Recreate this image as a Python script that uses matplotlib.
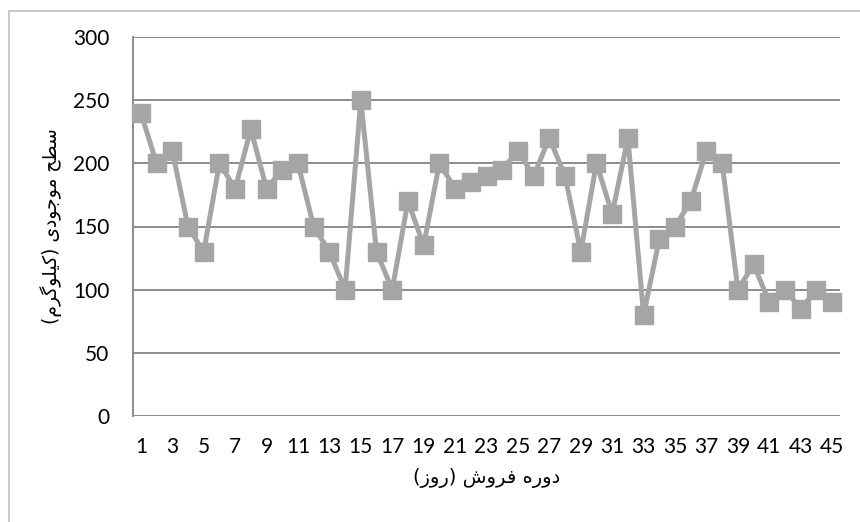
import matplotlib
matplotlib.use("Agg")
import matplotlib.pyplot as plt
from matplotlib.patches import Rectangle

# داده‌ها: سطح موجودی در هر روز دوره فروش
days = list(range(1, 46))
stock = [240, 200, 210, 150, 130, 200, 180, 227, 180, 195,
         200, 150, 130, 100, 250, 130, 100, 170, 135, 200,
         180, 185, 190, 195, 210, 190, 220, 190, 130, 200,
         160, 220, 80, 140, 150, 170, 210, 200, 100, 120,
         90, 100, 85, 100, 90]
x_ticks = list(range(1, 46, 2))
y_ticks = [0, 50, 100, 150, 200, 250, 300]

x_title = "دوره فروش (روز)"
y_title = "سطح موجودی (کیلوگرم)"

# matplotlib شکل‌دهی عربی ندارد، پس حروف را دستی به شکل‌های نمایشی می‌بریم
# (جدا، پایانی، آغازی، میانی)
FORMS = {
    'د': ('\uFEA9', '\uFEAA', None, None),
    'ر': ('\uFEAD', '\uFEAE', None, None),
    'ز': ('\uFEAF', '\uFEB0', None, None),
    'و': ('\uFEED', '\uFEEE', None, None),
    'ه': ('\uFEE9', '\uFEEA', '\uFEEB', '\uFEEC'),
    'ف': ('\uFED1', '\uFED2', '\uFED3', '\uFED4'),
    'ش': ('\uFEB5', '\uFEB6', '\uFEB7', '\uFEB8'),
    'س': ('\uFEB1', '\uFEB2', '\uFEB3', '\uFEB4'),
    'ط': ('\uFEC1', '\uFEC2', '\uFEC3', '\uFEC4'),
    'ح': ('\uFEA1', '\uFEA2', '\uFEA3', '\uFEA4'),
    'م': ('\uFEE1', '\uFEE2', '\uFEE3', '\uFEE4'),
    'ج': ('\uFE9D', '\uFE9E', '\uFE9F', '\uFEA0'),
    'ل': ('\uFEDD', '\uFEDE', '\uFEDF', '\uFEE0'),
    'ی': ('\uFBFC', '\uFBFD', '\uFBFE', '\uFBFF'),
    'ک': ('\uFB8E', '\uFB8F', '\uFB90', '\uFB91'),
    'گ': ('\uFB92', '\uFB93', '\uFB94', '\uFB95'),
}


def shape_rtl(text):
    out = []
    for i, ch in enumerate(text):
        if ch not in FORMS:
            out.append(ch)
            continue
        prev = text[i - 1] if i > 0 else ''
        nxt = text[i + 1] if i + 1 < len(text) else ''
        join_prev = prev in FORMS and FORMS[prev][2] is not None
        join_next = FORMS[ch][2] is not None and nxt in FORMS
        iso, fin, ini, med = FORMS[ch]
        if join_prev and join_next:
            out.append(med)
        elif join_prev:
            out.append(fin)
        elif join_next:
            out.append(ini)
        else:
            out.append(iso)
    swap = {'(': ')', ')': '('}
    return ''.join(swap.get(c, c) for c in reversed(out))


line_col = '#A5A5A5'
grid_col = '#8C8C8C'

fig = plt.figure(figsize=(8.6, 5.22), dpi=100)
fig.add_artist(Rectangle((8.5 / 860, -0.1), 1.2, 1.1 - 10.5 / 522,
                         transform=fig.transFigure, fill=False,
                         edgecolor='#BFBFBF', linewidth=1.2))
ax = fig.add_axes([133 / 860, 1 - 416 / 522, 707 / 860, 379 / 522])

ax.plot(days, stock, color=line_col, linewidth=3.6, marker='s',
        markersize=13, markerfacecolor=line_col, markeredgecolor=line_col,
        clip_on=False, zorder=3)

ax.set_xlim(0.5, 45.5)
ax.set_ylim(0, 300)
ax.set_xticks(x_ticks)
ax.set_yticks(y_ticks)
ax.tick_params(axis='both', length=0, labelsize=15, labelcolor='#000000')
ax.tick_params(axis='x', pad=15)
ax.tick_params(axis='y', pad=17)
for lab in ax.get_xticklabels() + ax.get_yticklabels():
    lab.set_family(['Lato', 'DejaVu Sans'])

ax.grid(axis='y', color=grid_col, linewidth=1.4)
ax.set_axisbelow(True)
for s in ['top', 'right', 'bottom']:
    ax.spines[s].set_visible(False)
ax.spines['left'].set_color(grid_col)
ax.spines['left'].set_linewidth(1.4)

ax.set_xlabel(shape_rtl(x_title), fontsize=14, family='DejaVu Sans', labelpad=8)
ax.set_ylabel(shape_rtl(y_title), fontsize=13.5, family='DejaVu Sans', labelpad=8)

fig.savefig('out.png', dpi=100)
